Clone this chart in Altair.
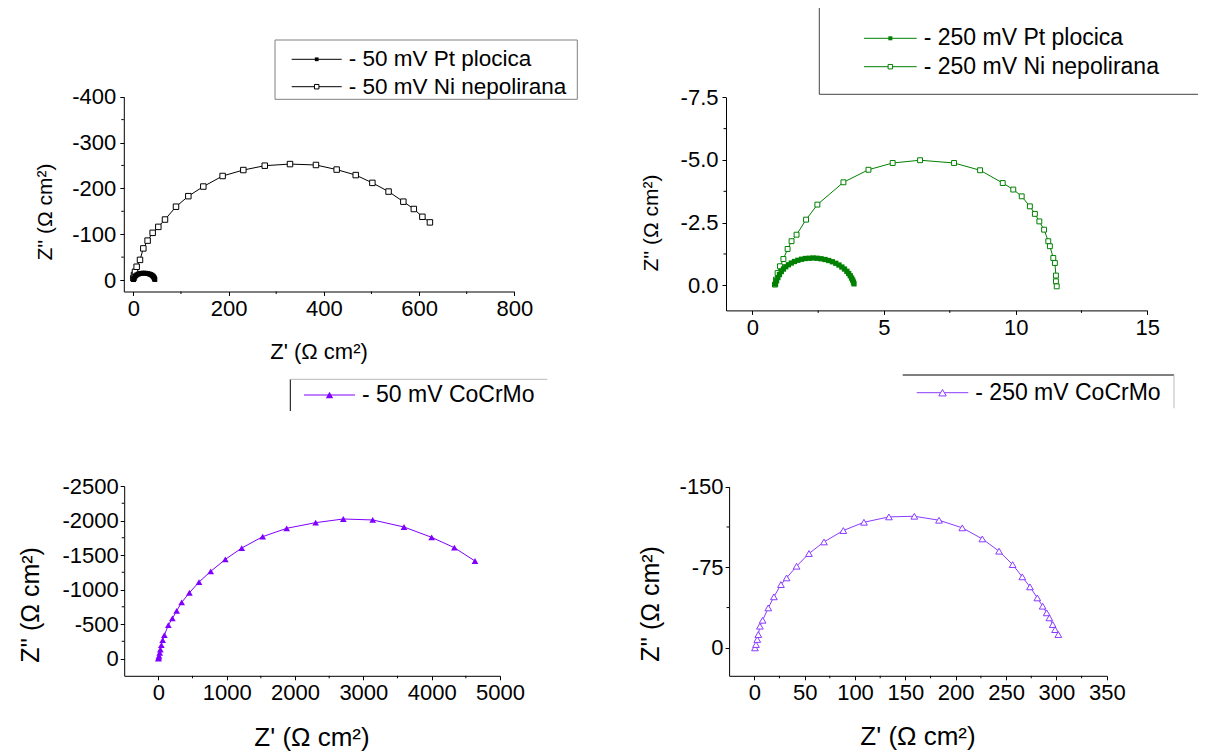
import altair as alt
import pandas as pd

FONT = "Liberation Sans, Arial, sans-serif"

# ---------------- data ----------------
# Panel 1: -50 mV
p1_pt_x = [0.5, 1.5, 3, 5, 7.5, 10.5, 14, 18, 22, 26, 30, 33.5, 36.5, 39, 41, 42.5, 43.7, 44.6, 45.2]
p1_pt_y = [-1, -4, -7, -9.5, -11.5, -13, -14.2, -14.8, -15, -14.8, -14.2, -13.2, -12, -10.5, -8.8, -7, -5, -3, -1.2]
p1_ni_x = [0, 1.4, 3.5, 7, 14, 21, 30, 40.6, 52.5, 66.5, 89.6, 115.5, 147, 187.5, 231, 276, 329, 383.5,
           427, 467, 502, 536, 567, 589, 607, 622.8]
p1_ni_y = [-4, -11, -18, -29, -44, -69, -86, -103, -116, -132, -160, -183, -204, -227, -240, -249.5, -253, -251,
           -241, -229, -212, -193, -171, -155, -138, -125.8]

# Panel 2: -250 mV
p2_pt_x = [0.88, 0.92, 0.97, 1.03, 1.10, 1.18, 1.27, 1.37, 1.48, 1.60, 1.73, 1.87, 2.01, 2.16, 2.31, 2.46,
           2.61, 2.76, 2.90, 3.04, 3.17, 3.29, 3.40, 3.50, 3.59, 3.66, 3.72, 3.77, 3.81, 3.84, 3.86]
p2_pt_y = [-0.05, -0.18, -0.31, -0.43, -0.55, -0.65, -0.74, -0.82, -0.89, -0.95, -1.00, -1.04, -1.07, -1.08,
           -1.09, -1.08, -1.06, -1.03, -0.99, -0.94, -0.88, -0.81, -0.73, -0.65, -0.56, -0.47, -0.38, -0.29,
           -0.21, -0.13, -0.06]
p2_ni_x = [0.86, 0.9, 0.96, 1.05, 1.18, 1.34, 1.49, 1.68, 2.04, 2.47, 3.46, 4.41, 5.33, 6.37, 7.66, 8.65,
           9.51, 9.91, 10.23, 10.54, 10.73, 10.9, 11.08, 11.24, 11.3, 11.43, 11.49, 11.53, 11.53, 11.56]
p2_ni_y = [-0.03, -0.23, -0.49, -0.76, -1.05, -1.45, -1.76, -2.02, -2.62, -3.22, -4.11, -4.61, -4.88, -4.99,
           -4.88, -4.59, -4.08, -3.82, -3.55, -3.15, -2.85, -2.55, -2.22, -1.76, -1.56, -1.09, -0.89, -0.39,
           -0.16, 0.04]

# Panel 3: -50 mV CoCrMo
p3_x = [0, 5, 10, 20, 29, 44, 63, 88, 146, 205, 268, 341, 454, 595, 766, 980, 1220, 1527, 1878, 2302,
        2707, 3137, 3595, 4000, 4332, 4634]
p3_y = [0, -15, -39, -82, -131, -194, -266, -339, -484, -581, -692, -813, -953, -1108, -1263, -1437, -1601,
        -1766, -1887, -1969, -2022, -2008, -1906, -1756, -1606, -1413]

# Panel 4: -250 mV CoCrMo
p4_x = [0.7, 1.7, 3, 4, 5.6, 8.3, 13.9, 19.5, 26.5, 32.1, 42, 54.3, 69.2, 88.4, 108.9, 133.7, 158.9, 183.4,
        206.5, 226.4, 243, 256.5, 266.1, 273.7, 281, 286.3, 290.3, 293, 296.3, 298.6, 301.9]
p4_y = [0, -3.1, -7.8, -12.4, -20.2, -25.7, -37.2, -47.5, -58.9, -65.1, -76, -87.8, -98.6, -109.2, -116.9,
        -121.9, -122.5, -118.8, -111.7, -101.4, -90, -77.5, -66.1, -56.8, -46.5, -38.8, -32.6, -27.9, -21.7,
        -17, -12.4]

# tick values
p1_xticks = [0, 200, 400, 600, 800]
p1_yticks = [-400, -300, -200, -100, 0]
p1_xminor = [100, 300, 500, 700]
p1_yminor = [-350, -250, -150, -50]
p2_xticks = [0, 5, 10, 15]
p2_yticks = [-7.5, -5.0, -2.5, 0.0]
p2_xminor = [2.5, 7.5, 12.5]
p2_yminor = [-6.25, -3.75, -1.25]
p3_xticks = [0, 1000, 2000, 3000, 4000, 5000]
p3_yticks = [-2500, -2000, -1500, -1000, -500, 0]
p3_xminor = [500, 1500, 2500, 3500, 4500]
p3_yminor = [-2250, -1750, -1250, -750, -250]
p4_xticks = [0, 50, 100, 150, 200, 250, 300, 350]
p4_yticks = [-150, -75, 0]
p4_xminor = [25, 75, 125, 175, 225, 275, 325]
p4_yminor = [-112.5, -37.5]

W, H = 1190, 748
one = pd.DataFrame({"a": [0]})


def label_expr(fmt):
    return ("datum.value < 0 ? '-' + format(-datum.value, '%s') : format(datum.value, '%s')" % (fmt, fmt))


def panel(series, xdom, xr, ydom, yr, xticks, yticks, xminor, yminor, xfmt, yfmt, lsize, ypad):
    xoff = yr[1] - H
    yoff = -xr[0]

    def X(field):
        return alt.X(field, type="quantitative",
                     scale=alt.Scale(domain=xdom, range=xr, nice=False, zero=False),
                     axis=alt.Axis(orient="bottom", offset=xoff, values=xticks, labelExpr=label_expr(xfmt),
                                   title=None, grid=False, labelFont=FONT, labelFontSize=lsize,
                                   labelColor="black", tickColor="black", domainColor="black", tickSize=4,
                                   labelPadding=3, labelFlush=False, labelOverlap=False, labelBound=False))

    def Y(field):
        return alt.Y(field, type="quantitative",
                     scale=alt.Scale(domain=ydom, range=yr, nice=False, zero=False),
                     axis=alt.Axis(orient="left", offset=yoff, values=yticks, labelExpr=label_expr(yfmt),
                                   title=None, grid=False, labelFont=FONT, labelFontSize=lsize,
                                   labelColor="black", tickColor="black", domainColor="black", tickSize=4,
                                   labelPadding=ypad, labelFlush=False, labelOverlap=False, labelBound=False))

    layers = []
    for s in series:
        df = pd.DataFrame({"x": s["x"], "y": s["y"], "i": list(range(len(s["x"])))})
        base = alt.Chart(df)
        layers.append(base.mark_line(color=s["color"], strokeWidth=1).encode(
            x=X("x"), y=Y("y"), order=alt.Order("i:Q")))
        layers.append(base.mark_point(shape=s["shape"], filled=s["filled"], size=s["size"],
                                      color=s["color"], opacity=1, strokeWidth=1,
                                      fill=s["color"] if s["filled"] else "white").encode(
            x=X("x"), y=Y("y")))
    layers.append(alt.Chart(pd.DataFrame({"v": xminor})).mark_rule(color="black", strokeWidth=1).encode(
        x=X("v"), y=alt.value(yr[1]), y2=alt.value(yr[1] + 2.5)))
    layers.append(alt.Chart(pd.DataFrame({"v": yminor})).mark_rule(color="black", strokeWidth=1).encode(
        y=Y("v"), x=alt.value(xr[0] - 2.5), x2=alt.value(xr[0])))
    return alt.layer(*layers)


def rule(x1, y1, x2, y2, color):
    return alt.Chart(one).mark_rule(color=color, strokeWidth=1).encode(
        x=alt.value(x1), x2=alt.value(x2), y=alt.value(y1), y2=alt.value(y2))


def sym(x, y, shape, color, filled, size):
    return alt.Chart(one).mark_point(shape=shape, filled=filled, size=size, color=color, opacity=1,
                                     strokeWidth=1, fill=color if filled else "white").encode(
        x=alt.value(x), y=alt.value(y))


def text(x, y, s, size, angle=0, align="left"):
    return alt.Chart(one).mark_text(text=s, font=FONT, fontSize=size, color="black", align=align,
                                    baseline="middle", angle=angle).encode(x=alt.value(x), y=alt.value(y))


def legend_item(x0, x1, y, shape, color, filled, size, label, fsize):
    return [rule(x0, y, x1, y, color), sym((x0 + x1) / 2, y, shape, color, filled, size),
            text(x1 + 7, y, label, fsize)]


BLACK = "#000000"
GREEN = "#008000"
PURPLE = "#8000ff"
PURPLE2 = "#8a3cff"

p1 = panel([
    dict(x=p1_ni_x, y=p1_ni_y, color=BLACK, shape="square", filled=False, size=30),
    dict(x=p1_pt_x, y=p1_pt_y, color=BLACK, shape="square", filled=True, size=24),
], [-20, 800], [115.8, 506.3], [-400, 25], [88.7, 283.5],
    p1_xticks, p1_yticks, p1_xminor, p1_yminor, "d", "d", 22, 4)

p2 = panel([
    dict(x=p2_ni_x, y=p2_ni_y, color=GREEN, shape="square", filled=False, size=24),
    dict(x=p2_pt_x, y=p2_pt_y, color=GREEN, shape="square", filled=True, size=28),
], [-1, 15], [718, 1139.3], [-7.5, 1.0], [89.3, 302.4],
    p2_xticks, p2_yticks, p2_xminor, p2_yminor, "d", ".1f", 22, 4)

p3 = panel([
    dict(x=p3_x, y=p3_y, color=PURPLE, shape="triangle-up", filled=True, size=45),
], [-500, 5000], [116.2, 492], [-2500, 250], [478, 667.8],
    p3_xticks, p3_yticks, p3_xminor, p3_yminor, "d", "d", 22, 2)

p4 = panel([
    dict(x=p4_x, y=p4_y, color=PURPLE2, shape="triangle-up", filled=False, size=45),
], [-25, 350], [721.1, 1098.8], [-150, 26], [478.7, 667.8],
    p4_xticks, p4_yticks, p4_xminor, p4_yminor, "d", "d", 22, 2)

deco = []
# legend 1 (full box)
deco += [rule(267, 32, 569.3, 32, "#808080"), rule(267, 91.3, 569.3, 91.3, "#808080"),
         rule(267, 32, 267, 91.3, "#808080"), rule(569.3, 32, 569.3, 91.3, "#808080")]
deco += legend_item(283.7, 333.7, 51.3, "square", BLACK, True, 14, "- 50 mV Pt plocica", 22.5)
deco += legend_item(283.7, 333.7, 78.7, "square", BLACK, False, 20, "- 50 mV Ni nepolirana", 22.5)
# legend 2 (left + bottom edges)
deco += [rule(811.3, 0, 811.3, 86.3, "#444444"), rule(811.3, 86.3, 1190, 86.3, "#444444")]
deco += legend_item(856, 908.7, 30.3, "square", GREEN, True, 16, "- 250 mV Pt plocica", 23)
deco += legend_item(856, 908.7, 58.7, "square", GREEN, False, 20, "- 250 mV Ni nepolirana", 23)
# legend 3 (left + top edges)
deco += [rule(282.3, 371.3, 282.3, 403, "#000000"), rule(282.3, 371.3, 539.3, 371.3, "#bbbbbb")]
deco += legend_item(296, 347, 387, "triangle-up", PURPLE, True, 55, "- 50 mV CoCrMo", 23)
# legend 4 (top + right edges)
deco += [rule(894.7, 367, 1166, 367, "#000000"), rule(1166, 367, 1166, 400.3, "#bbbbbb")]
deco += legend_item(908.7, 960.3, 384.7, "triangle-up", PURPLE2, False, 55, "- 250 mV CoCrMo", 23)

# axis titles
deco += [text(311, 344, "Z' (Ω cm²)", 22, align="center"),
         text(38, 204, "Z'' (Ω cm²)", 21, angle=270, align="center"),
         text(644, 215, "Z'' (Ω cm²)", 21, angle=270, align="center"),
         text(304, 730, "Z' (Ω cm²)", 26, align="center"),
         text(23, 597, "Z'' (Ω cm²)", 25, angle=270, align="center"),
         text(910, 729, "Z' (Ω cm²)", 26, align="center"),
         text(643, 596, "Z'' (Ω cm²)", 25, angle=270, align="center")]

chart = alt.layer(p1, p2, p3, p4, *deco).resolve_scale(
    x="independent", y="independent").properties(
    width=W, height=H, autosize=alt.AutoSizeParams(type="none"), padding=0, background="white"
).configure_view(strokeWidth=0, stroke="transparent")

chart.save("out.html", embed_options={"renderer": "svg", "actions": False})
